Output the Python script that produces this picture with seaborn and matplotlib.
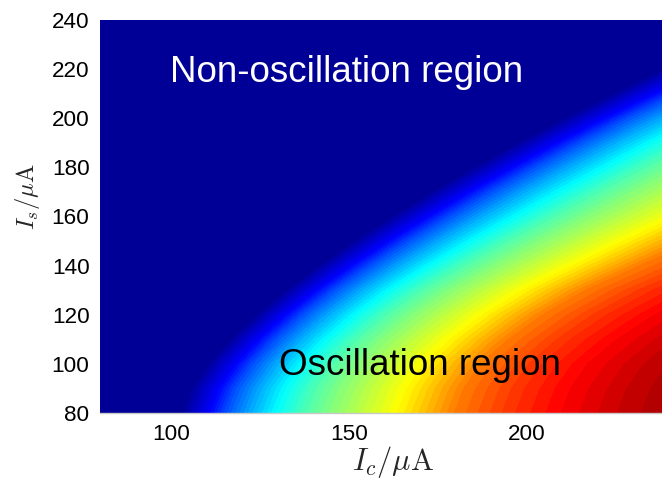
import numpy as np
import matplotlib
matplotlib.use("Agg")
import matplotlib.pyplot as plt
from matplotlib.colors import Normalize
import seaborn as sns

# Rows of the map: bias current Is (uA)
is_values = [80, 90, 100, 110, 120, 130, 140, 150, 160, 170, 180, 190, 200, 210, 220, 230, 240]
# Ic (uA) at which oscillation sets in for each Is row (edge of the dark region)
onset_ic = [102.6, 105.3, 110.1, 116.3, 123.6, 131.8, 140.9, 150.8, 161.4, 172.6, 184.5,
            196.9, 209.9, 223.5, 237.6, 252.0, 267.0]
# widening of the colour bands along each row (relative to the Is = 80 row)
row_spread = [1.0, 1.0, 1.0, 1.02, 1.05, 1.1, 1.18, 1.25, 1.32, 1.36, 1.39, 1.41, 1.44,
              1.5, 1.55, 1.6, 1.6]
# Colour value (0..1 of the colour scale) read along the Is = 80 row, versus Ic - onset (uA)
offset_ic = [0, 2, 4, 8.5, 13, 19, 27, 34, 42, 51, 61, 77, 92, 107, 122, 137, 160, 220]
amplitude = [0, 0.03, 0.06, 0.125, 0.2, 0.28, 0.375, 0.44, 0.5, 0.56, 0.625, 0.75, 0.82,
             0.875, 0.92, 0.955, 1.0, 1.0]
ic_start = 80  # left edge of the map, no oscillation

x_ticks = [100, 150, 200]
y_ticks = [80, 100, 120, 140, 160, 180, 200, 220, 240]
label_region_off = "Non-oscillation region"
label_region_on = "Oscillation region"

sns.set_theme(style="white")
plt.rcParams["font.family"] = ["Liberation Sans", "DejaVu Sans"]
plt.rcParams["mathtext.fontset"] = "cm"

# MATLAB-like jet colour map built with seaborn
jet_nodes = [(0, 0, 0.5625), (0, 0, 1), (0, 0.5, 1), (0, 1, 1), (0.5, 1, 0.5),
             (1, 1, 0), (1, 0.5, 0), (1, 0, 0), (0.5, 0, 0)]
jet = sns.blend_palette(jet_nodes, n_colors=256, as_cmap=True)

# curvilinear grid: each row starts at the left edge, then follows the onset
n_rows = len(is_values)
X = np.column_stack([np.full(n_rows, ic_start),
                     np.asarray(onset_ic)[:, None]
                     + np.asarray(row_spread)[:, None] * np.asarray(offset_ic)[None, :]])
Y = np.repeat(np.asarray(is_values, dtype=float)[:, None], X.shape[1], axis=1)
Z = np.column_stack([np.zeros(n_rows), np.tile(amplitude, (n_rows, 1))])

levels = np.linspace(0, 1, 65)
norm = Normalize(vmin=0, vmax=1)

fig = plt.figure(figsize=(6.62, 4.79), dpi=100)
W, H = 662, 479
ax = fig.add_axes([100 / W, (H - 413) / H, 562 / W, 393 / H])
ax.set_facecolor(jet(0.0))

ax.contourf(X, Y, Z, levels=levels, cmap=jet, norm=norm, antialiased=False)

ax.set_xlim(80, 238.0)
ax.set_ylim(80, 240)
ax.set_xticks(x_ticks)
ax.set_yticks(y_ticks)
ax.tick_params(axis="both", length=0, labelsize=16.2, colors="black")
ax.tick_params(axis="x", pad=8)
ax.tick_params(axis="y", pad=7.5)
for side in ["left", "right", "top"]:
    ax.spines[side].set_visible(False)
ax.spines["bottom"].set_color("#c8c8c8")
ax.spines["bottom"].set_linewidth(1.0)

ax.text(99.8, 214.6, label_region_off, color="white", fontsize=26.5,
        ha="left", va="baseline")
ax.text(130.3, 95.3, label_region_on, color="black", fontsize=26.5,
        ha="left", va="baseline")

fig.text(352 / W, 1 - 470 / H, r"$I_c/\mu\mathrm{A}$", fontsize=22,
         ha="left", va="baseline")
fig.text(27 / W, 1 - 196.5 / H, r"$I_s/\mu\mathrm{A}$", fontsize=17.6,
         rotation=90, ha="center", va="center")

fig.savefig("out.png", dpi=100, facecolor="white")
